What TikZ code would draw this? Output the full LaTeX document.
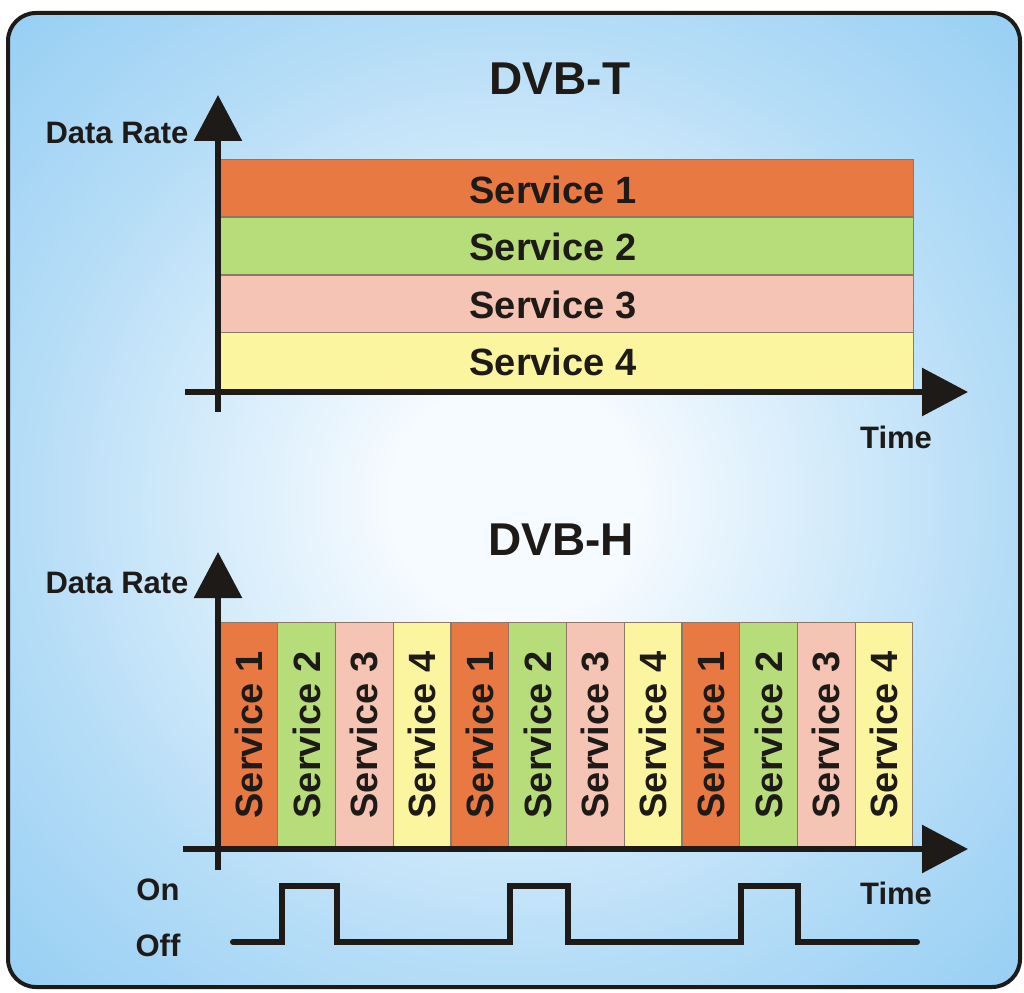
\documentclass[tikz,border=0pt]{standalone}
\usepackage{fontspec}
\setmainfont{Liberation Sans}
\usetikzlibrary{arrows.meta}
\definecolor{bgcA}{RGB}{246,251,255}
\definecolor{bgcB}{RGB}{182,221,247}
\definecolor{bgcC}{RGB}{122,194,240}
\definecolor{bgcD}{RGB}{92,176,230}
\definecolor{sone}{RGB}{233,121,66}
\definecolor{stwo}{RGB}{182,221,122}
\definecolor{sthree}{RGB}{245,196,180}
\definecolor{sfour}{RGB}{250,245,158}
\definecolor{ink}{RGB}{30,26,24}
\definecolor{barline}{RGB}{140,120,100}
\pgfdeclareradialshading{bgrad}{\pgfpoint{0bp}{0bp}}{color(0bp)=(bgcA); color(6bp)=(bgcA); color(24bp)=(bgcB); color(46bp)=(bgcC); color(72bp)=(bgcD)}
\begin{document}
\begin{tikzpicture}[x=1pt,y=-1pt,
  title/.style={font=\bfseries\fontsize{46}{50}\selectfont, text=ink, inner sep=0pt},
  axlabel/.style={font=\bfseries\fontsize{31}{34}\selectfont, text=ink, inner sep=0pt},
  svc/.style={font=\bfseries\fontsize{38}{42}\selectfont, text=ink, inner sep=0pt},
  hbar/.style={draw=barline, line width=1pt, minimum width=693pt, minimum height=57pt, inner sep=0pt},
  vbar/.style={draw=barline, line width=1pt, minimum width=57.7pt, minimum height=226pt, inner sep=0pt},
  axis/.style={draw=ink, line width=6pt, -{Triangle[length=46pt,width=47pt]}},
  signal/.style={draw=ink, line width=6pt, line cap=round, line join=miter}]
\useasboundingbox (0,0) rectangle (1024,992);
% frame with background gradient
\path[shading=bgrad, rounded corners=28pt] (8,13) rectangle (1020,987);
\draw[draw=ink, line width=4pt, rounded corners=28pt] (8,13) rectangle (1020,987);

% ---------- DVB-T ----------
\node[title] (ttitle) at (560,79) {DVB-T};
\node[hbar, fill=sone]   (t1) at (566.5,188.5) {};
\node[hbar, fill=stwo]   (t2) at (566.5,246) {};
\node[hbar, fill=sthree] (t3) at (566.5,303.5) {};
\node[hbar, fill=sfour]  (t4) at (566.5,360.5) {};
\node[svc] (t1l) at (553,190) {Service 1};
\node[svc] (t2l) at (553,247) {Service 2};
\node[svc] (t3l) at (553,305) {Service 3};
\node[svc] (t4l) at (553,362) {Service 4};
\coordinate (tyb) at (218,412);
\coordinate (tyt) at (218,95);
\coordinate (txl) at (185,392);
\coordinate (txr) at (968,392);
\draw[axis] (tyb) -- (tyt);
\draw[axis] (txl) -- (txr);
\node[axlabel] (tdr) at (117,133) {Data Rate};
\node[axlabel] (ttime) at (896,437) {Time};

% ---------- DVB-H ----------
\node[title] (htitle) at (561,540) {DVB-H};
\foreach \i/\c/\n in {0/sone/1,1/stwo/2,2/sthree/3,3/sfour/4,4/sone/1,5/stwo/2,6/sthree/3,7/sfour/4,8/sone/1,9/stwo/2,10/sthree/3,11/sfour/4}{
  \node[vbar, fill=\c] (h\i) at ({220+57.75*\i+28.875},735) {};
  \node[svc, rotate=90] (h\i l) at (h\i) {Service \n};
}
\coordinate (hyb) at (218,870);
\coordinate (hyt) at (218,552);
\coordinate (hxl) at (183,849);
\coordinate (hxr) at (968,849);
\draw[axis] (hyb) -- (hyt);
\draw[axis] (hxl) -- (hxr);
\node[axlabel] (hdr) at (117,583) {Data Rate};
\node[axlabel] (htime) at (896,893) {Time};

% ---------- On / Off ----------
\node[axlabel] (on) at (158,890) {On};
\node[axlabel] (off) at (158,945) {Off};
\draw[signal] (233,942) -- (282,942) -- (282,886) -- (337,886) -- (337,942)
  -- (510,942) -- (510,886) -- (568,886) -- (568,942)
  -- (741,942) -- (741,886) -- (798,886) -- (798,942) -- (917,942);
\end{tikzpicture}
\end{document}
